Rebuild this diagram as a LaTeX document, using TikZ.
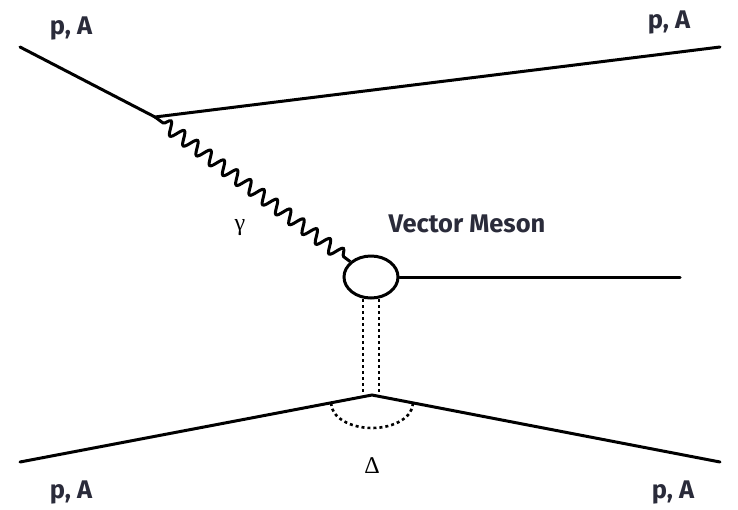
\documentclass[tikz,border=0pt]{standalone}
\usepackage{fontspec}
\setsansfont{Fira Sans}
\newfontfamily\greekfont{Liberation Serif}
\usetikzlibrary{decorations.pathmorphing,shapes.geometric}
\definecolor{lbl}{HTML}{2A2B3A}
\tikzset{
  line/.style={line width=3pt, line cap=round},
  lab/.style={font=\sffamily\bfseries\fontsize{25.5}{28}\selectfont, text=lbl},
  glab/.style={font=\greekfont\fontsize{24}{26}\selectfont},
  photon/.style={line width=3pt, decorate, decoration={snake, amplitude=6.5pt, segment length=16.5pt, pre length=10pt, post length=3pt}},
  pomeron/.style={line width=2.6pt, dash pattern=on 3pt off 3pt},
  blob/.style={draw, line width=3pt, ellipse, minimum width=54pt, minimum height=42pt, inner sep=0pt, fill=white},
}
\begin{document}
\begin{tikzpicture}[x=1pt,y=-1pt]
\useasboundingbox (0,0) rectangle (738,509);
\coordinate (inTL) at (20,47);
\coordinate (v1) at (155,117);
\coordinate (outTR) at (720,47);
\coordinate (inBL) at (20,462);
\coordinate (v2) at (372,395);
\coordinate (outBR) at (720,462);
\coordinate (vmEnd) at (680,277);
\node[blob] (vm) at (371,277) {};
\draw[line] (inTL) -- (v1) -- (outTR);
\draw[line] (inBL) -- (v2) -- (outBR);
\draw[photon] (v1) -- (vm);
\draw[line] (vm.east) -- (vmEnd);
\coordinate (pa1) at (363,299);
\coordinate (pa2) at (363,394);
\coordinate (pb1) at (379,299);
\coordinate (pb2) at (379,395);
\draw[pomeron] (pa1) -- (pa2);
\draw[pomeron] (pb1) -- (pb2);
\draw[pomeron] (331,403) arc[start angle=180, end angle=0, x radius=41, y radius=25];
\node[lab] (l1) at (71,28) {p, A};
\node[lab] (l2) at (669,22) {p, A};
\node[lab] (l3) at (71,492) {p, A};
\node[lab] (l4) at (673,492) {p, A};
\node[lab] (l5) at (467,224) {Vector Meson};
\node[glab] (g) at (240,228) {γ};
\node[glab] (d) at (372,466) {Δ};
\end{tikzpicture}
\end{document}
